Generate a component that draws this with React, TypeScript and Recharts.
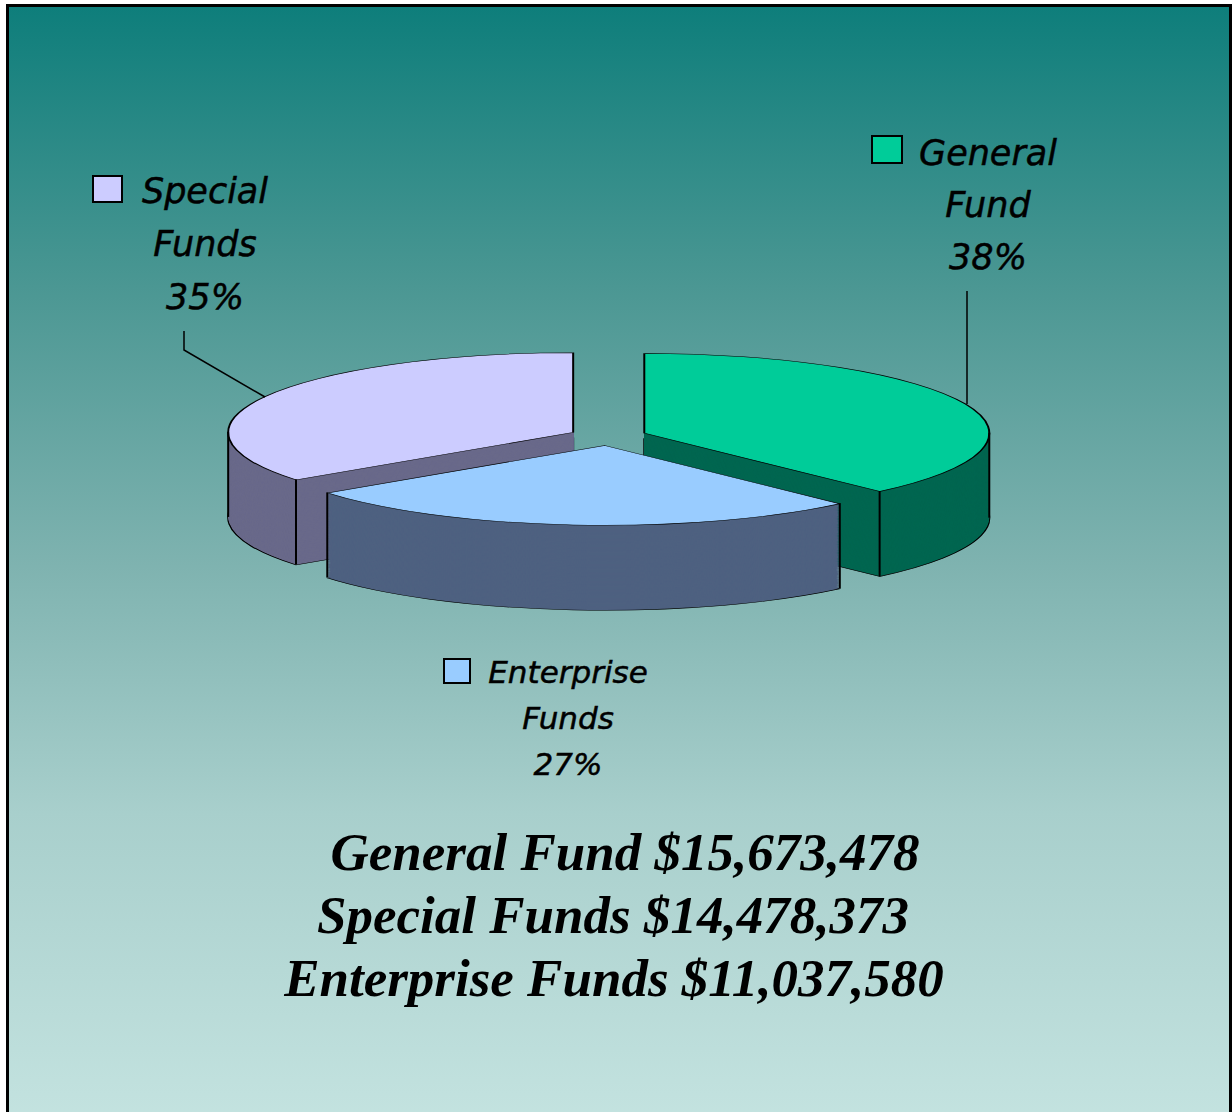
import { PieChart, Pie, Cell } from "recharts";

const categories = ["General Fund", "Enterprise Funds", "Special Funds"];
const values = [15673478, 11037580, 14478373];
const labelLines = [["General", "Fund"], ["Enterprise", "Funds"], ["Special", "Funds"]];
const summaryOrder = [0, 2, 1];
const summaryX = [625, 613, 614];

const topColors = ["#00CC99", "#99CCFF", "#CCCCFF"];
const sideColors = ["#006650", "#4E6180", "#69698A"];

// 3d look: pie drawn flat, squashed vertically with css
const K = 80 / 346;
const R = 345;
const EXPLODE = 39;
const THICK = 85;
const DEPTH = THICK / K;
const TOP_CY = 400;
const BASE_CX = 608;
const SCREEN_CY = 436;
const CHART_H = 1200;
const STEPS = 95;
const SCREEN_TOP = SCREEN_CY - TOP_CY * K;

const total = values.reduce((a, b) => a + b, 0);
const data = categories.map((name, i) => ({ name, value: values[i] }));

let acc = 0;
const slices = values.map((v) => {
  const start = 90 - (360 * acc) / total;
  acc += v;
  const end = 90 - (360 * acc) / total;
  const mid = (start + end) / 2;
  const rad = (mid * Math.PI) / 180;
  return { start, end, dx: EXPLODE * Math.cos(rad), dy: -EXPLODE * Math.sin(rad) };
});

// vertical wall edges (slice corners on the front half + silhouettes)
const wallEdges: { x: number; y: number }[] = [];
slices.forEach((s) => {
  const cx = BASE_CX + s.dx;
  const cy = SCREEN_CY + s.dy * K;
  const angles = [s.start, s.end];
  [0, 180, -180, -360].forEach((a) => {
    if (a < s.start && a > s.end) angles.push(a);
  });
  angles.forEach((a) => {
    const r = (a * Math.PI) / 180;
    if (Math.sin(r) <= 0.001) wallEdges.push({ x: cx + R * Math.cos(r), y: cy - R * K * Math.sin(r) });
  });
});

const layers = Array.from({ length: STEPS + 1 }, (_, i) => i);

const labelBoxes = [
  { x: 988, y: 165, gap: 52, size: 35, sw: { x: 872, y: 136, w: 30, h: 27 } },
  { x: 568, y: 683, gap: 46, size: 31, sw: { x: 444, y: 659, w: 26, h: 24 } },
  { x: 205, y: 203, gap: 53, size: 35, sw: { x: 93, y: 176, w: 29, h: 26 } },
];

const fmt = (v: number) => "$" + v.toLocaleString("en-US");

export default function App() {
  return (
    <div style={{ position: "absolute", left: 0, top: 0, width: 1232, height: 1112, overflow: "hidden" }}>
      <div
        style={{
          position: "absolute",
          left: 6,
          top: 4,
          width: 1220,
          height: 1120,
          border: "3px solid #000",
          background: "linear-gradient(to bottom, #0E7E7B 0%, #4B9793 25%, #7FB3B0 50%, #A8CFCC 72%, #C4E3E0 100%)",
        }}
      />
      <div style={{ position: "absolute", left: 0, top: SCREEN_TOP, width: 1232, height: CHART_H, transform: `scaleY(${K})`, transformOrigin: "top left" }}>
        <PieChart width={1232} height={CHART_H} margin={{ top: 0, right: 0, bottom: 0, left: 0 }}>
          {layers.map((i) => {
            const cy = TOP_CY + DEPTH * (1 - i / STEPS);
            const isTop = i === STEPS;
            const isBottom = i === 0;
            return data.map((_, s) => (
              <Pie
                key={`${i}-${s}`}
                data={data}
                dataKey="value"
                nameKey="name"
                cx={BASE_CX + slices[s].dx}
                cy={cy + slices[s].dy}
                innerRadius={0}
                outerRadius={R}
                startAngle={90}
                endAngle={-270}
                isAnimationActive={false}
                legendType="none"
                label={false}
                labelLine={false}
              >
                {data.map((d, j) => (
                  <Cell
                    key={d.name}
                    fill={j === s ? (isTop ? topColors[j] : sideColors[j]) : "none"}
                    stroke={j === s && (isTop || isBottom) ? "#000" : "none"}
                    strokeWidth={2}
                    vectorEffect="non-scaling-stroke"
                  />
                ))}
              </Pie>
            ));
          })}
        </PieChart>
      </div>
      <svg width={1232} height={1112} style={{ position: "absolute", left: 0, top: 0 }}>
        {wallEdges.map((e, i) => (
          <line key={i} x1={e.x} y1={e.y} x2={e.x} y2={e.y + THICK} stroke="#000" strokeWidth={2} />
        ))}
        <polyline points="967,291 967,404" fill="none" stroke="#000" strokeWidth={1.5} />
        <polyline points="184,331 184,350 265,397" fill="none" stroke="#000" strokeWidth={1.5} />
        {labelBoxes.map((b, i) => {
          const pct = Math.round((values[i] / total) * 100) + "%";
          const lines = [...labelLines[i], pct];
          return (
            <g key={categories[i]}>
              <rect x={b.sw.x} y={b.sw.y} width={b.sw.w} height={b.sw.h} fill={topColors[i]} stroke="#000" strokeWidth={2} />
              {lines.map((t, k) => (
                <text
                  key={k}
                  x={b.x}
                  y={b.y + k * b.gap}
                  textAnchor="middle"
                  fontFamily="DejaVu Sans"
                  fontStyle="italic"
                  fontSize={b.size}
                  fill="#000"
                  stroke="#000"
                  strokeWidth={0.5}
                >
                  {t}
                </text>
              ))}
            </g>
          );
        })}
        {summaryOrder.map((idx, k) => (
          <text
            key={categories[idx]}
            x={summaryX[k]}
            y={870 + k * 63}
            textAnchor="middle"
            fontFamily="Liberation Serif"
            fontStyle="italic"
            fontWeight="bold"
            fontSize={53}
            fill="#000"
          >
            {`${categories[idx]} ${fmt(values[idx])}`}
          </text>
        ))}
      </svg>
    </div>
  );
}
